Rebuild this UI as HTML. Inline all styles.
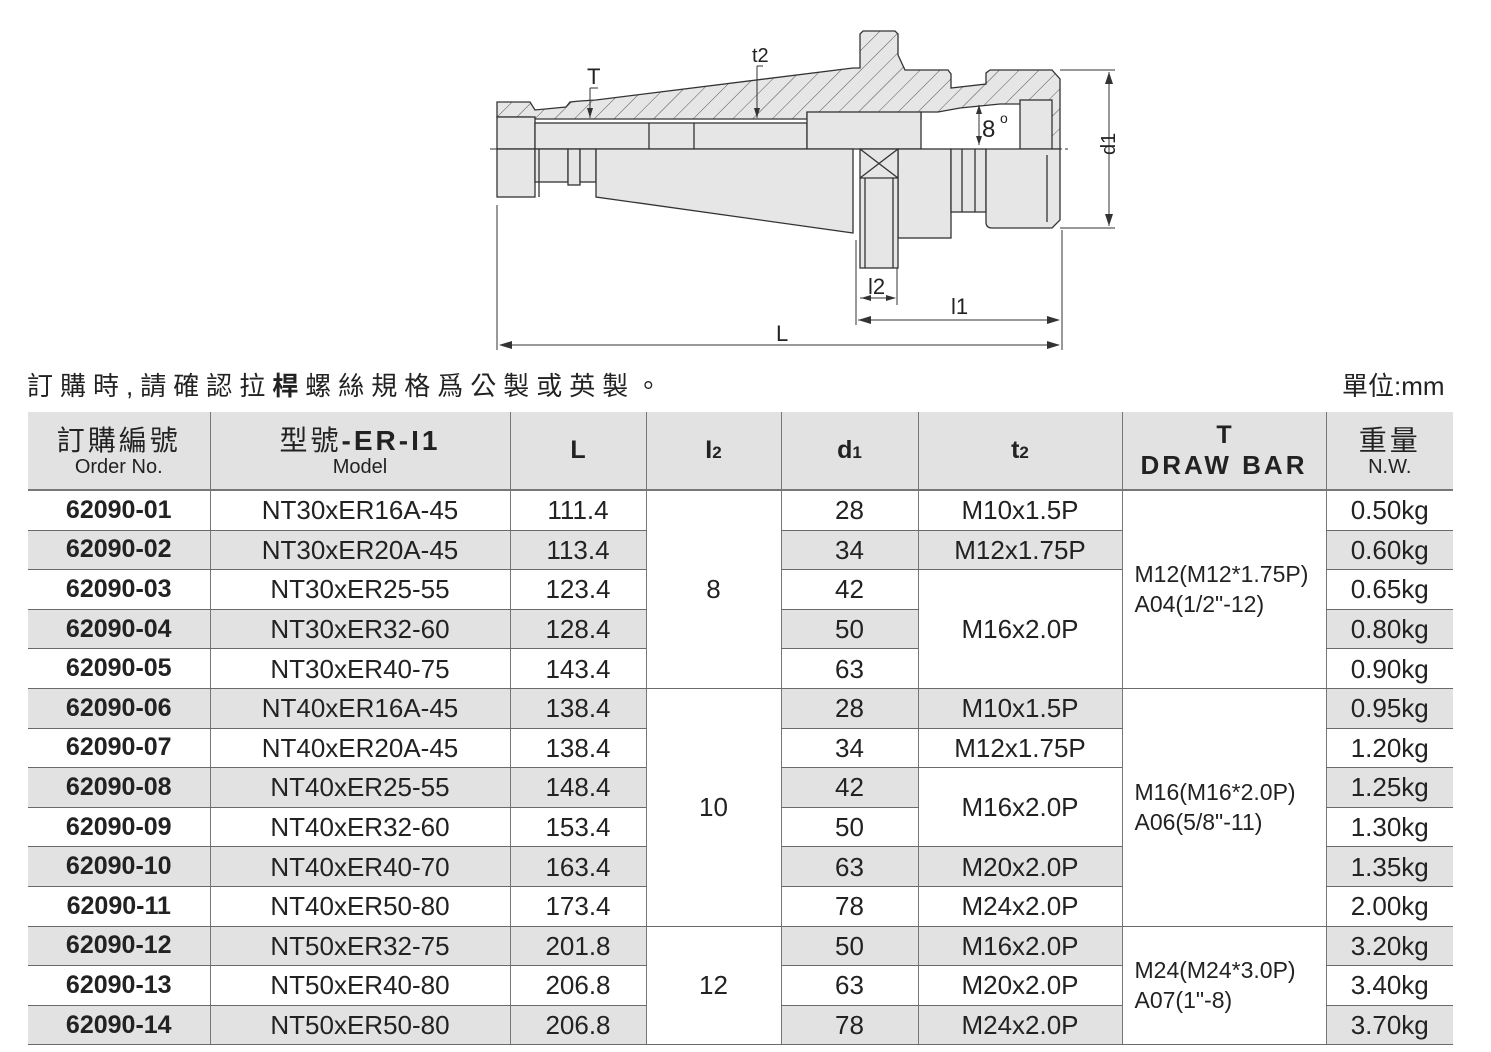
<!DOCTYPE html>
<html><head><meta charset="utf-8">
<style>
html,body{margin:0;padding:0;background:#fff;}
body{width:1491px;height:1052px;position:relative;overflow:hidden;font-family:"Liberation Sans","Noto Sans CJK TC",sans-serif;color:#222;}
.note{position:absolute;left:27px;top:366px;font-size:26px;letter-spacing:7px;font-family:"Liberation Sans","Noto Sans CJK TC",sans-serif;}
.unit{position:absolute;left:1342px;top:366px;font-size:26px;}
table{position:absolute;left:28px;top:412px;border-collapse:collapse;table-layout:fixed;}
td{padding:0;text-align:center;vertical-align:middle;font-size:26px;height:38.6px;border-bottom:1.5px solid #6a6a6a;border-left:1px solid #777;line-height:1;}
td:first-child{border-left:none;}
tr.h td{background:#e2e2e2;height:77px;border-bottom:2px solid #777;}
.g{background:#e2e2e2;}
.b{font-weight:bold;font-size:25px;}
.hz{font-size:28px;line-height:32px;letter-spacing:3px;}
.sm{font-size:20px;}
.tt{font-size:23px;line-height:30px;text-align:left;padding-left:12px;}
</style></head><body>
<svg width="1491" height="360" style="position:absolute;left:0;top:0" xmlns="http://www.w3.org/2000/svg">
<defs><pattern id="h" width="14" height="14" patternUnits="userSpaceOnUse" patternTransform="rotate(45)"><rect width="14" height="14" fill="#e6e6e6"/><line x1="0" y1="0" x2="0" y2="14" stroke="#555" stroke-width="1"/></pattern></defs>
<g stroke="#333" stroke-width="1.3" fill="#e6e6e6">
<path d="M497 102 L530 102 L535 110 L566 107 L570 102 L580 101 L596 100 L853 68 L860 68 L860 34 L863 31 L895 31 L898 34 L898 55 L905 70 L948 70 L951 74 L951 88 L986 84 L986 73 L990 70 L1052 70 L1060 79 L1060 149 L1050 149 L1050 110 L1040 104 L1000 104 L960 108 L938 112 L921 112 L921 119 L807 119 L807 112 L807 119 L535 119 L530 117 L497 117 Z" fill="url(#h)"/>
<rect x="497" y="117" width="38" height="32"/>
<rect x="535" y="123" width="272" height="26"/>
<rect x="807" y="112" width="114" height="37"/>
<line x1="649" y1="123" x2="649" y2="149"/><line x1="694" y1="123" x2="694" y2="149"/>
<rect x="1020" y="100" width="32" height="49"/>
<rect x="497" y="149" width="38" height="48"/>
<rect x="535" y="149" width="33" height="33"/>
<rect x="568" y="149" width="12" height="36"/>
<rect x="580" y="149" width="16" height="33"/>
<polygon points="596,149 853,149 853,233 596,197"/>
<rect x="898" y="149" width="53" height="89"/>
<rect x="860" y="149" width="38" height="119"/>
<rect x="951" y="149" width="35" height="63"/>
<path d="M986 149 L1060 149 L1060 220 L1052 228 L992 228 Q986 228 986 222 Z"/>
<line x1="860" y1="149" x2="898" y2="178"/><line x1="898" y1="149" x2="860" y2="178"/>
<line x1="860" y1="178" x2="898" y2="178"/>
<line x1="865" y1="178" x2="865" y2="268"/><line x1="893" y1="178" x2="893" y2="268"/>
<line x1="962" y1="149" x2="962" y2="212"/><line x1="975" y1="149" x2="975" y2="212"/>
<line x1="539" y1="149" x2="539" y2="197"/><line x1="1047" y1="155" x2="1047" y2="222"/>
</g>
<g stroke="#333" stroke-width="1" fill="none">
<line x1="490" y1="149" x2="1068" y2="149" stroke-dasharray="14,3,3,3"/>
<line x1="497" y1="205" x2="497" y2="350"/>
<line x1="1062" y1="230" x2="1062" y2="350"/>
<line x1="856" y1="240" x2="856" y2="325"/>
<line x1="897" y1="268" x2="897" y2="305"/>
<line x1="1060" y1="70" x2="1115" y2="70"/><line x1="1060" y1="228" x2="1115" y2="228"/>
<line x1="1109" y1="72" x2="1109" y2="226"/>
<line x1="500" y1="345" x2="1059" y2="345"/>
<line x1="858" y1="320" x2="1059" y2="320"/>
<line x1="860" y1="298" x2="895" y2="298"/>
<line x1="590" y1="88" x2="590" y2="118"/><line x1="590" y1="88" x2="598" y2="88"/>
<line x1="757" y1="66" x2="757" y2="118"/><line x1="757" y1="66" x2="763" y2="66"/>
<line x1="979" y1="105" x2="979" y2="145"/>
</g>
<g fill="#333">
<polygon points="499,345 512,341 512,349"/><polygon points="1060,345 1047,341 1047,349"/>
<polygon points="858,320 871,316 871,324"/><polygon points="1060,320 1047,316 1047,324"/>
<polygon points="861,298 871,295 871,301"/><polygon points="896,298 886,295 886,301"/>
<polygon points="1109,72 1105,84 1113,84"/><polygon points="1109,226 1105,214 1113,214"/>
<polygon points="590,118 587,108 593,108"/><polygon points="757,118 754,108 760,108"/>
<polygon points="979,105 976,114 982,114"/><polygon points="979,145 976,136 982,136"/>
</g>
<g font-family="Liberation Sans,sans-serif" font-size="22" fill="#222">
<text x="587" y="84">T</text><text x="752" y="62" font-size="20">t2</text>
<text x="982" y="137" font-size="24">8</text><text x="1000" y="123" font-size="14">o</text>
<text x="1107" y="163" transform="rotate(-90 1107 155)" font-size="20">d1</text>
<text x="868" y="294">l2</text><text x="951" y="314">l1</text><text x="776" y="341">L</text>
</g>
</svg>
<div class="note">訂購時,請確認拉<b>桿</b>螺絲規格爲公製或英製。</div>
<div class="unit">單位:mm</div>
<table>
<colgroup><col style="width:182px"><col style="width:300px"><col style="width:136px"><col style="width:135px"><col style="width:137px"><col style="width:204px"><col style="width:204px"><col style="width:127px"></colgroup>
<tr class="h"><td><div class="hz">訂購編號</div><div class="sm">Order No.</div></td><td><div class="hz">型號<b>-ER-I1</b></div><div class="sm">Model</div></td><td class="b">L</td><td class="b">I<span style="font-size:17px">2</span></td><td class="b">d<span style="font-size:17px">1</span></td><td class="b">t<span style="font-size:17px">2</span></td><td><div class="b" style="line-height:28px">T</div><div class="b" style="letter-spacing:3px;line-height:32px;font-size:26px">DRAW BAR</div></td><td><div class="hz">重量</div><div class="sm">N.W.</div></td></tr>
<tr><td class="b">62090-01</td><td>NT30xER16A-45</td><td>111.4</td><td rowspan="5">8</td><td>28</td><td>M10x1.5P</td><td rowspan="5" class="tt">M12(M12*1.75P)<br>A04(1/2"-12)</td><td>0.50kg</td></tr>
<tr class="g"><td class="b">62090-02</td><td>NT30xER20A-45</td><td>113.4</td><td>34</td><td>M12x1.75P</td><td>0.60kg</td></tr>
<tr><td class="b">62090-03</td><td>NT30xER25-55</td><td>123.4</td><td>42</td><td rowspan="3" style="background:#fff">M16x2.0P</td><td>0.65kg</td></tr>
<tr class="g"><td class="b">62090-04</td><td>NT30xER32-60</td><td>128.4</td><td>50</td><td>0.80kg</td></tr>
<tr><td class="b">62090-05</td><td>NT30xER40-75</td><td>143.4</td><td>63</td><td>0.90kg</td></tr>
<tr class="g"><td class="b">62090-06</td><td>NT40xER16A-45</td><td>138.4</td><td rowspan="6" style="background:#fff">10</td><td>28</td><td>M10x1.5P</td><td rowspan="6" class="tt" style="background:#fff">M16(M16*2.0P)<br>A06(5/8"-11)</td><td>0.95kg</td></tr>
<tr><td class="b">62090-07</td><td>NT40xER20A-45</td><td>138.4</td><td>34</td><td>M12x1.75P</td><td>1.20kg</td></tr>
<tr class="g"><td class="b">62090-08</td><td>NT40xER25-55</td><td>148.4</td><td>42</td><td rowspan="2" style="background:#fff">M16x2.0P</td><td>1.25kg</td></tr>
<tr><td class="b">62090-09</td><td>NT40xER32-60</td><td>153.4</td><td>50</td><td>1.30kg</td></tr>
<tr class="g"><td class="b">62090-10</td><td>NT40xER40-70</td><td>163.4</td><td>63</td><td>M20x2.0P</td><td>1.35kg</td></tr>
<tr><td class="b">62090-11</td><td>NT40xER50-80</td><td>173.4</td><td>78</td><td>M24x2.0P</td><td>2.00kg</td></tr>
<tr class="g"><td class="b">62090-12</td><td>NT50xER32-75</td><td>201.8</td><td rowspan="3" style="background:#fff">12</td><td>50</td><td>M16x2.0P</td><td rowspan="3" class="tt" style="background:#fff">M24(M24*3.0P)<br>A07(1"-8)</td><td>3.20kg</td></tr>
<tr><td class="b">62090-13</td><td>NT50xER40-80</td><td>206.8</td><td>63</td><td>M20x2.0P</td><td>3.40kg</td></tr>
<tr class="g"><td class="b">62090-14</td><td>NT50xER50-80</td><td>206.8</td><td>78</td><td>M24x2.0P</td><td>3.70kg</td></tr>
</table>
</body></html>
